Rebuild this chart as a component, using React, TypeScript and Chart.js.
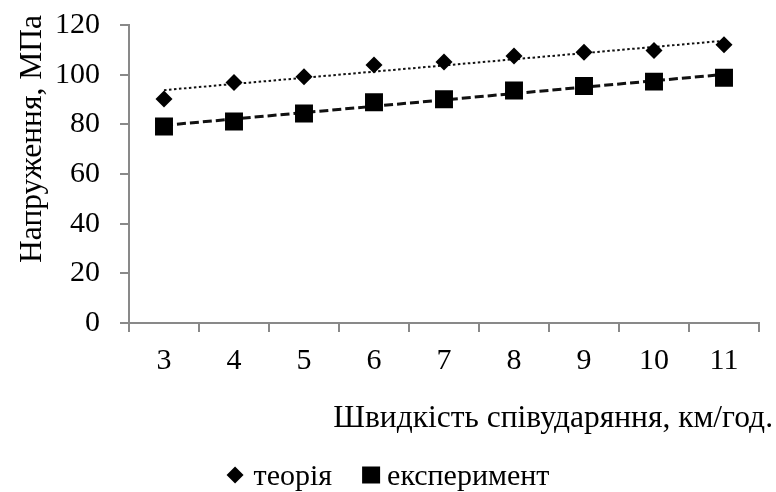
import React, { useEffect, useRef } from 'react';
import { Chart, registerables } from 'chart.js';

Chart.register(...registerables);

// ---- data ----
const categories = ['3', '4', '5', '6', '7', '8', '9', '10', '11'];
const theory = [90.2, 96.8, 99.2, 103.9, 105.1, 107.5, 109.0, 109.7, 112.0];
const experiment = [79.1, 81.1, 84.4, 88.9, 90.1, 93.6, 95.4, 97.2, 98.8];
const seriesLabels = ['теорія', 'експеримент'];
const xTitle = 'Швидкість співударяння, км/год.';
const yTitle = 'Напруження, МПа';
const yMin = 0;
const yMax = 120;
const yStep = 20;

const FONT = "'Liberation Serif', 'Times New Roman', serif";
const AXIS_COLOR = '#898989';

// Linear least-squares trendline (like Excel's linear trendline)
function linearTrend(values: number[]): number[] {
  const n = values.length;
  const mx = (n - 1) / 2;
  const my = values.reduce((a, b) => a + b, 0) / n;
  let sxy = 0;
  let sxx = 0;
  values.forEach((v, i) => {
    sxy += (i - mx) * (v - my);
    sxx += (i - mx) * (i - mx);
  });
  const slope = sxy / sxx;
  return values.map((_, i) => my + slope * (i - mx));
}

const annotPlugin = {
  id: 'annot',
  afterDraw(chart: any) {
    const ctx: CanvasRenderingContext2D = chart.ctx;
    ctx.save();
    ctx.fillStyle = '#000';
    ctx.font = `31.5px ${FONT}`;
    // x axis title
    ctx.textAlign = 'right';
    ctx.textBaseline = 'alphabetic';
    ctx.fillText(xTitle, 773, 427);
    // y axis title
    ctx.save();
    ctx.translate(41, 139);
    ctx.rotate(-Math.PI / 2);
    ctx.textAlign = 'center';
    ctx.fillText(yTitle, 0, 0);
    ctx.restore();

    // legend
    ctx.font = `30px ${FONT}`;
    const w1 = ctx.measureText(seriesLabels[0]).width;
    const w2 = ctx.measureText(seriesLabels[1]).width;
    const total = 17 + 10 + w1 + 30 + 18 + 7 + w2;
    let x = 388 - total / 2;
    const cy = 475;
    const base = 485;
    // diamond
    ctx.beginPath();
    ctx.moveTo(x + 8.5, cy - 8.5);
    ctx.lineTo(x + 17, cy);
    ctx.lineTo(x + 8.5, cy + 8.5);
    ctx.lineTo(x, cy);
    ctx.closePath();
    ctx.fill();
    x += 17 + 10;
    ctx.textAlign = 'left';
    ctx.fillText(seriesLabels[0], x, base);
    x += w1 + 30;
    ctx.fillRect(x, cy - 8.5, 18, 17);
    x += 18 + 7;
    ctx.fillText(seriesLabels[1], x, base);
    ctx.restore();
  },
};

export default function App() {
  const ref = useRef<HTMLCanvasElement | null>(null);

  useEffect(() => {
    if (!ref.current) return;
    const chart = new Chart(ref.current, {
      type: 'line',
      data: {
        labels: categories,
        datasets: [
          {
            label: seriesLabels[0],
            data: theory,
            showLine: false,
            pointStyle: 'rectRot',
            pointRadius: 8.5,
            pointBackgroundColor: '#000',
            pointBorderWidth: 0,
            borderColor: '#000',
            backgroundColor: '#000',
          },
          {
            label: seriesLabels[1],
            data: experiment,
            showLine: false,
            pointStyle: 'rect',
            pointRadius: 12.7,
            pointBackgroundColor: '#000',
            pointBorderWidth: 0,
            borderColor: '#000',
            backgroundColor: '#000',
          },
          {
            label: 'trend-theory',
            data: linearTrend(theory),
            borderColor: '#111',
            borderWidth: 2,
            borderDash: [2.5, 2.5],
            pointRadius: 0,
            fill: false,
            tension: 0,
          },
          {
            label: 'trend-experiment',
            data: linearTrend(experiment),
            borderColor: '#111',
            borderWidth: 3,
            borderDash: [9, 4],
            pointRadius: 0,
            fill: false,
            tension: 0,
          },
        ],
      },
      options: {
        responsive: false,
        animation: false,
        layout: { padding: { top: 25, right: 17, left: 0, bottom: 0 } },
        plugins: {
          legend: { display: false },
          tooltip: { enabled: false },
          title: { display: false },
        },
        scales: {
          x: {
            type: 'category',
            offset: true,
            grid: {
              offset: true,
              drawOnChartArea: false,
              drawTicks: true,
              tickLength: 9,
              color: AXIS_COLOR,
              lineWidth: 2,
            },
            border: { display: true, color: AXIS_COLOR, width: 2 },
            ticks: {
              color: '#000',
              font: { family: FONT, size: 30 },
              padding: 11,
              maxRotation: 0,
              autoSkip: false,
            },
            afterFit: (scale: any) => {
              scale.height = 169;
              scale.paddingLeft = 0;
              scale.paddingRight = 0;
            },
          },
          y: {
            min: yMin,
            max: yMax,
            grid: {
              drawOnChartArea: false,
              drawTicks: true,
              tickLength: 9,
              color: AXIS_COLOR,
              lineWidth: 2,
            },
            border: { display: true, color: AXIS_COLOR, width: 2 },
            ticks: {
              stepSize: yStep,
              color: '#000',
              font: { family: FONT, size: 30 },
              padding: 20,
            },
            afterFit: (scale: any) => {
              scale.width = 129;
              scale.paddingTop = 0;
              scale.paddingBottom = 0;
            },
          },
        },
      },
      plugins: [annotPlugin],
    });
    return () => chart.destroy();
  }, []);

  return (
    <div style={{ position: 'fixed', left: 0, top: 0, width: 776, height: 492, background: '#fff' }}>
      <canvas ref={ref} width={776} height={492} style={{ display: 'block' }} />
    </div>
  );
}
